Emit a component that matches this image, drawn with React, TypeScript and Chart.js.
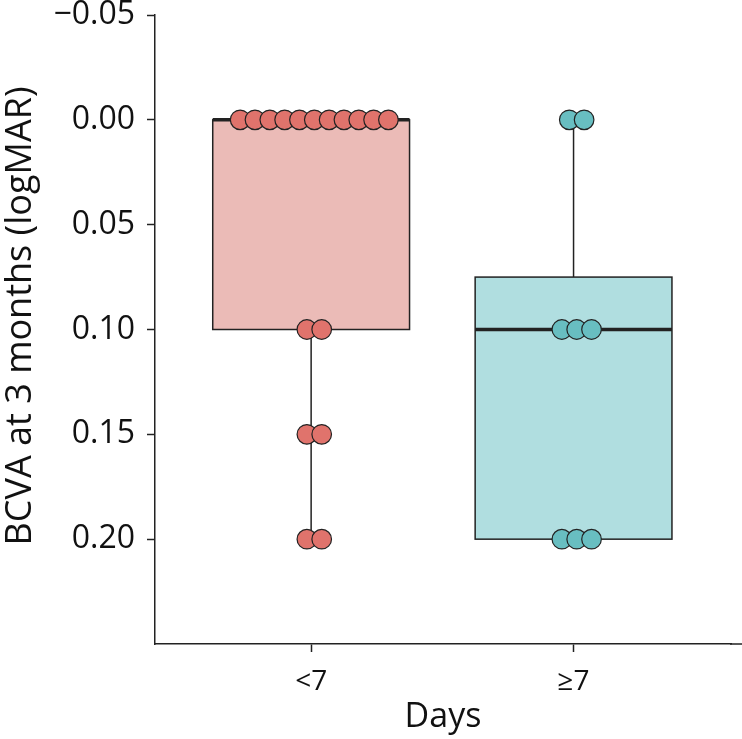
import React, { useEffect, useRef } from 'react';
import { Chart, registerables } from 'chart.js';

Chart.register(...registerables);

// ---- data ----
const categories = ['<7', '≥7'];
const yTickValues = [-0.05, 0.0, 0.05, 0.1, 0.15, 0.2];
const boxQ1 = [0.0, 0.075];
const boxMedian = [0.0, 0.1];
const boxQ3 = [0.1, 0.2];
const whiskerLow = [0.0, 0.0];
const whiskerHigh = [0.2, 0.2];
const pointsLess7 = [0, 0, 0, 0, 0, 0, 0, 0, 0, 0, 0, 0.1, 0.1, 0.15, 0.15, 0.2, 0.2];
const pointsGe7 = [0, 0, 0.1, 0.1, 0.1, 0.2, 0.2, 0.2];
const xTitle = 'Days';
const yTitle = 'BCVA at 3 months (logMAR)';

// ---- styles ----
const FONT = '"Open Sans", "Noto Sans", sans-serif';
const LINE = '#222222';
const TEXT = '#111111';
const boxFills = ['#EBBBB7', '#B0DEE0'];
const dotFills = ['#E0736C', '#68BEC1'];
const BOX_HALF = 0.375;
const DOT_SHIFT = 0.012;
const DOT_STEP = 0.0565;

function swarm(values: number[], center: number) {
  const counts: Record<string, number> = {};
  values.forEach((v) => (counts[v.toFixed(3)] = (counts[v.toFixed(3)] || 0) + 1));
  const seen: Record<string, number> = {};
  return values.map((v) => {
    const k = v.toFixed(3);
    const n = counts[k];
    const i = seen[k] || 0;
    seen[k] = i + 1;
    return { x: center + DOT_SHIFT + (i - (n - 1) / 2) * DOT_STEP, y: v };
  });
}

const boxPlugin = {
  id: 'boxes',
  beforeDatasetsDraw(chart: any) {
    const { ctx } = chart;
    const x = chart.scales.x;
    const y = chart.scales.y;
    ctx.save();
    // extend the x-axis line to the right edge of the canvas
    ctx.strokeStyle = LINE;
    ctx.lineWidth = 1.5;
    ctx.beginPath();
    ctx.moveTo(x.right - 1, chart.chartArea.bottom);
    ctx.lineTo(chart.width, chart.chartArea.bottom);
    ctx.stroke();
    categories.forEach((_c, i) => {
      const cx = x.getPixelForValue(i + 1);
      const hw = x.getPixelForValue(i + 1 + BOX_HALF) - cx;
      const yq1 = y.getPixelForValue(boxQ1[i]);
      const yq3 = y.getPixelForValue(boxQ3[i]);
      const ymed = y.getPixelForValue(boxMedian[i]);
      const ylo = y.getPixelForValue(whiskerLow[i]);
      const yhi = y.getPixelForValue(whiskerHigh[i]);
      ctx.strokeStyle = LINE;
      ctx.lineWidth = 1.5;
      ctx.beginPath();
      ctx.moveTo(cx, ylo);
      ctx.lineTo(cx, yq1);
      ctx.moveTo(cx, yq3);
      ctx.lineTo(cx, yhi);
      ctx.stroke();
      const top = Math.min(yq1, yq3);
      const h = Math.abs(yq3 - yq1);
      ctx.fillStyle = boxFills[i];
      ctx.fillRect(cx - hw, top, 2 * hw, h);
      ctx.strokeRect(cx - hw, top, 2 * hw, h);
      ctx.lineWidth = 3.5;
      ctx.beginPath();
      ctx.moveTo(cx - hw, ymed);
      ctx.lineTo(cx + hw, ymed);
      ctx.stroke();
    });
    ctx.restore();
  },
};

const yTitlePlugin = {
  id: 'yTitle',
  afterDraw(chart: any) {
    const { ctx } = chart;
    ctx.save();
    ctx.translate(21, 316);
    ctx.rotate(-Math.PI / 2);
    ctx.font = `36px ${FONT}`;
    ctx.fillStyle = TEXT;
    ctx.textAlign = 'center';
    ctx.textBaseline = 'middle';
    ctx.fillText(yTitle, 0, 0);
    ctx.restore();
  },
};

export default function App() {
  const ref = useRef<HTMLCanvasElement>(null);
  useEffect(() => {
    if (!ref.current) return;
    const chart = new Chart(ref.current, {
      type: 'scatter',
      data: {
        datasets: [pointsLess7, pointsGe7].map((vals, i) => ({
          label: categories[i],
          data: swarm(vals, i + 1),
          backgroundColor: dotFills[i],
          borderColor: LINE,
          borderWidth: 1.2,
          pointRadius: 9.8,
          pointHoverRadius: 9.8,
        })),
      },
      options: {
        animation: false,
        responsive: false,
        layout: { padding: 0 },
        plugins: { legend: { display: false }, tooltip: { enabled: false } },
        scales: {
          x: {
            type: 'linear',
            min: 0.405,
            max: 2.6,
            afterFit: (s: any) => {
              s.height = 95;
              s.paddingLeft = 0;
              s.paddingRight = 0;
            },
            afterBuildTicks: (s: any) => { s.ticks = categories.map((_c, i) => ({ value: i + 1 })); },
            ticks: {
              callback: (v: any) => categories[Math.round(Number(v)) - 1] ?? '',
              font: { family: FONT, size: 28 },
              color: TEXT,
              padding: 13,
              maxRotation: 0,
            },
            grid: { display: true, drawOnChartArea: false, drawTicks: true, tickLength: 8, tickColor: LINE, tickWidth: 1.5 },
            border: { display: true, color: LINE, width: 1.5 },
            title: { display: true, text: xTitle, font: { family: FONT, size: 34 }, color: TEXT, padding: { top: 0, bottom: 1 } },
          },
          y: {
            type: 'linear',
            reverse: true,
            min: -0.05,
            max: 0.25,
            afterFit: (s: any) => {
              s.width = 155;
              s.paddingTop = 15;
              s.paddingBottom = 0;
            },
            afterBuildTicks: (s: any) => { s.ticks = yTickValues.map((v) => ({ value: v })); },
            ticks: {
              callback: (v: any) => Number(v).toFixed(2).replace('-', '\u2212'),
              font: { family: FONT, size: 32, lineHeight: 1 },
              color: TEXT,
              padding: 12,
            },
            grid: { display: true, drawOnChartArea: false, drawTicks: true, tickLength: 8, tickColor: LINE, tickWidth: 1.5 },
            border: { display: true, color: LINE, width: 1.5 },
            title: { display: false },
          },
        },
      },
      plugins: [boxPlugin, yTitlePlugin],
    });
    return () => chart.destroy();
  }, []);
  return (
    <div style={{ position: 'absolute', left: 0, top: 0, width: 742, height: 739 }}>
      <canvas ref={ref} width={742} height={739} style={{ width: 742, height: 739 }} />
    </div>
  );
}
